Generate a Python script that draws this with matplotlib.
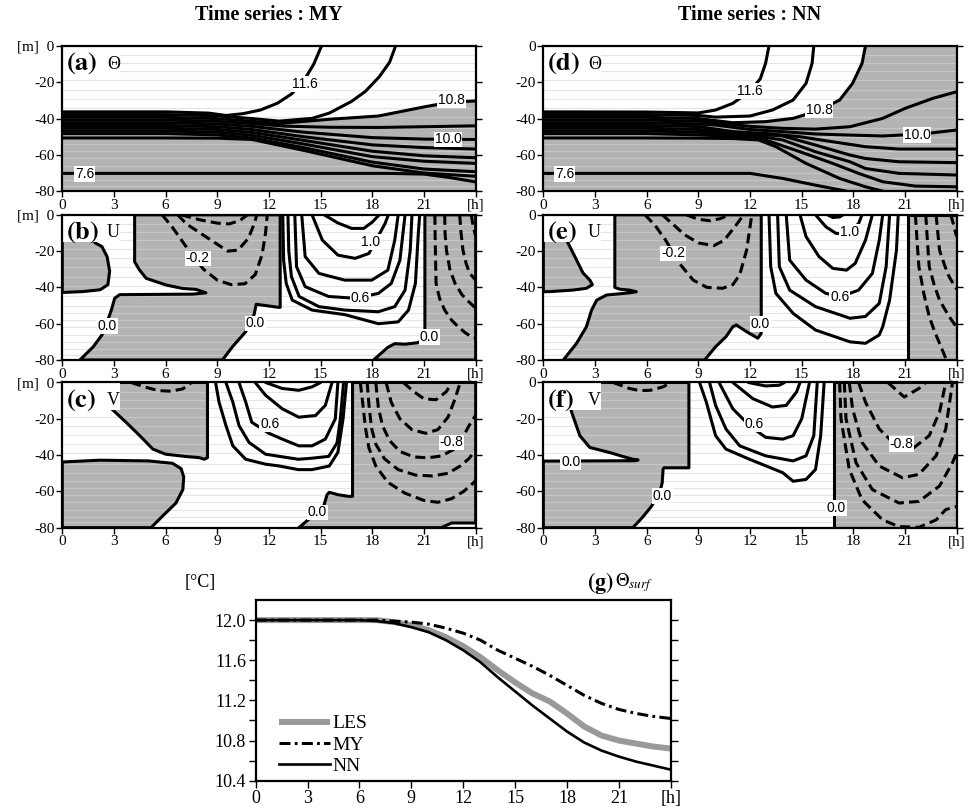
import matplotlib
matplotlib.use("Agg")
import matplotlib.pyplot as plt
from matplotlib.patches import Rectangle

plt.rcParams['font.family'] = ['Liberation Serif', 'DejaVu Serif']
plt.rcParams['mathtext.fontset'] = 'stix'
plt.rcParams['axes.unicode_minus'] = False

# ---------------- ticks ----------------
HOUR_TICKS = [0, 3, 6, 9, 12, 15, 18, 21, 24]
HOUR_LABELS = ['0', '3', '6', '9', '12', '15', '18', '21', '[h]']
DEPTH_TICKS = [0, -20, -40, -60, -80]
DEPTH_LABELS_LEFT = ['[m]  0', '-20', '-40', '-60', '-80']
DEPTH_LABELS_RIGHT = ['0', '-20', '-40', '-60', '-80']
GRID_DEPTHS = [-5, -9.5, -14, -19, -24, -29, -34, -39, -45, -50, -54, -58, -62, -66, -70, -74, -77]

# ---------------- (a) Theta, MY ----------------
THETA_MY_LINES = [
    (11.6, [0, 6, 8.5, 9.5, 10.5, 11.5, 12.5, 13.3, 14.0, 14.6, 15.05],
           [-36.3, -36.3, -37, -38.3, -37.3, -35.3, -31.5, -26.5, -19.5, -10, 0]),
    (11.2, [0, 6, 9, 11, 12.6, 14.5, 15.5, 16.8, 17.6, 18.4, 19.0, 19.35],
           [-37.8, -37.8, -38.5, -40, -41.4, -39.9, -37, -30.5, -25, -17, -9, 0]),
    (10.8, [0, 6, 9, 11, 12.6, 15.5, 18.35, 21.05, 22.5, 24],
           [-39.3, -39.3, -40, -41.5, -42.7, -40.4, -38.6, -33.5, -31, -30.3]),
    (10.4, [0, 6, 9, 11, 13, 15.5, 18.35, 21, 24],
           [-40.8, -40.8, -41.5, -42.8, -44.2, -44.8, -44.9, -44.5, -44]),
    (10.0, [0, 6, 9, 11, 14, 18, 21, 24], [-42.3, -42.3, -43, -44.3, -47.5, -50.5, -51.3, -51.5]),
    (9.6, [0, 6, 9, 11, 14, 18, 21, 24], [-43.8, -43.8, -44.5, -46, -50, -54.5, -56, -56.8]),
    (9.2, [0, 6, 9, 11, 14, 18, 21, 24], [-45.3, -45.3, -46, -47.6, -52, -58, -60.5, -61.6]),
    (8.8, [0, 6, 9, 11, 14, 18, 21, 24], [-46.8, -46.8, -47.5, -49.2, -54, -61, -63.5, -64.7]),
    (8.4, [0, 6, 9, 11, 14, 18, 21, 24], [-48.3, -48.3, -49, -50.7, -56, -64, -67.8, -69.3]),
    (8.0, [0, 6, 9, 11, 14, 18, 21, 24], [-50.7, -50.7, -50.8, -51.5, -57.5, -66, -70, -71.8]),
    (7.6, [0, 19, 21, 22.5, 24], [-70.2, -70.2, -70.6, -72.5, -74.9]),
]
THETA_MY_LABELS = [('11.6', 14.1, -21.0), ('10.8', 22.6, -29.8), ('10.0', 22.4, -51.5), ('7.6', 1.3, -70.4)]
THETA_MY_FILL_CLOSE = ([24, 0], [-80, -80])

# ---------------- (d) Theta, NN ----------------
THETA_NN_LINES = [
    (11.6, [0, 6, 9, 10, 11, 12, 12.6, 12.9, 13.1], [-36.3, -36.4, -36.9, -35.3, -31.6, -25, -18, -9.6, 0]),
    (11.2, [0, 6, 9, 10, 12, 13.3, 14.5, 15.25, 15.6, 15.7], [-37.8, -37.8, -38.3, -39.2, -38.6, -35.3, -29.8, -20.6, -9.6, 0]),
    (10.8, [0, 6, 9, 11, 12.9, 14.5, 16, 17.2, 17.95, 18.5, 18.7], [-39.3, -39.3, -40, -42.3, -41.7, -39.9, -35.5, -29.8, -20.6, -9.6, 0]),
    (10.4, [0, 6, 9, 10, 12, 13.9, 15.8, 17.8, 19.7, 21.0, 22.6, 24],
           [-40.8, -40.8, -41.5, -42.3, -44.3, -45.4, -45.8, -44.5, -39.9, -34.4, -28.9, -25.2]),
    (10.0, [0, 6, 9, 10, 12, 13.9, 15.8, 17.8, 19.7, 22, 24],
           [-42.3, -42.3, -43, -43.6, -46, -47.2, -48.5, -49.1, -49.6, -48.5, -46.3]),
    (9.6, [0, 6, 9, 11, 12.9, 14.9, 16.8, 18.7, 20.65, 24], [-43.8, -43.8, -44.4, -47.2, -48.2, -50, -52.8, -55.5, -56.8, -56.8]),
    (9.2, [0, 6, 9, 11, 13.9, 15.8, 17.8, 18.7, 20.65, 24], [-45.3, -45.3, -46, -47.8, -49.6, -54.6, -60.1, -62, -63.8, -64.3]),
    (8.8, [0, 6, 9, 11, 12.5, 13.9, 15.8, 17.8, 18.7, 20.65, 24],
          [-46.8, -46.8, -47.5, -48.8, -49.8, -51.8, -58.3, -63.8, -67.5, -70.2, -71.1]),
    (8.4, [0, 6, 9, 11, 12.0, 12.9, 14.9, 16.8, 18.3, 19.7, 21.6, 24],
          [-48.3, -48.3, -49, -49.8, -50.4, -51.8, -58.3, -64.7, -70.2, -74.8, -77.2, -77.6]),
    (8.0, [0, 6, 9, 11, 12.5, 13.5, 15.25, 17.2, 18.7, 19.7], [-50.7, -50.7, -50.8, -51, -51.8, -55.5, -64.7, -73, -77.6, -80]),
    (7.6, [0, 12, 13.9, 15.8, 17.6], [-70.2, -70.2, -73, -76.7, -80]),
]
THETA_NN_LABELS = [('11.6', 12.0, -25.0), ('10.8', 16.0, -35.3), ('10.0', 21.7, -49.0), ('7.6', 1.25, -70.4)]
THETA_NN_FILL_CLOSE = ([24, 24, 0], [0, -80, -80])

# ---------------- (b) U, MY ----------------
U_MY_LINES = [
    (-0.2, [5.8, 6.4, 7.0, 7.6, 8.2, 9.0, 9.8, 10.6, 11.2, 11.6, 11.8, 11.9],
           [0, -7, -15, -23, -30, -36, -38.5, -38, -33, -22, -10, 0]),
    (-0.4, [6.7, 7.2, 8.0, 8.8, 9.6, 10.2, 10.8, 11.1, 11.3], [0, -5, -10, -15, -20, -19.5, -13, -6, 0]),
    (-0.6, [6.9, 8.0, 9.0, 9.7, 10.3, 10.75], [0, -2.8, -4.6, -5.0, -3.2, 0]),
    (0.2, [12.8, 12.85, 13.0, 13.35, 14.5, 16.4, 18.35, 19.5, 20.1, 20.5, 20.67, 20.75],
          [0, -25, -37.8, -47, -52.5, -55, -60, -59, -52.5, -37.8, -10, 0]),
    (0.4, [13.1, 13.15, 13.3, 13.75, 14.9, 16.4, 18.35, 19.3, 19.9, 20.2, 20.3],
          [0, -20, -34, -45, -50.6, -52.5, -53.4, -50.6, -41.5, -19.5, 0]),
    (0.6, [13.5, 13.6, 14.1, 15.46, 17.0, 18.35, 19.1, 19.6, 19.9],
          [0, -28.6, -39.6, -45, -46, -43.3, -37.8, -25, 0]),
    (0.8, [13.9, 14.1, 14.9, 16.4, 17.96, 18.9, 19.3, 19.5], [0, -23, -32.3, -36, -36, -30.5, -14, 0]),
    (1.0, [14.5, 15.1, 16.0, 17.0, 17.8, 18.74, 18.93], [0, -14, -22.2, -24, -21.3, -4.8, 0]),
    (1.2, [15.2, 16.0, 16.8, 17.5, 18.0, 18.4], [0, -4.5, -7.5, -7.5, -4, 0]),
    (-0.2, [21.63, 21.65, 21.7, 21.9, 22.2, 22.6, 22.98, 23.4, 23.75, 24],
           [0, -15, -37.8, -46, -52.5, -58, -61.7, -65, -67.2, -68]),
    (-0.4, [22.2, 22.22, 22.3, 22.5, 22.8, 23.2, 23.5, 23.9, 24], [0, -10, -19.5, -30, -37.8, -44, -47, -50.6, -51]),
    (-0.6, [23.07, 23.15, 23.26, 23.45, 23.65, 24], [0, -10, -19.5, -27, -32.3, -36]),
    (-0.8, [23.74, 23.85, 24], [0, -6, -12]),
]
U_MY_NEG_REGIONS = [
    ([0, 1.6, 1.9, 2.3, 2.6, 2.75, 2.65, 2.2, 1.2, 0],
     [0, 0, -15.4, -17.5, -23, -31, -38.5, -41.3, -42.3, -42.8]),
    ([4.2, 4.2, 4.49, 4.87, 6.03, 7.0, 7.76, 8.34, 7.6, 3.33, 3.04, 2.85, 2.37, 1.8, 1.02,
      9.3, 9.88, 10.65, 11.13, 11.26, 12.57, 12.65, 12.65],
     [0, -25.9, -30.5, -35, -38.7, -40.6, -41.1, -43.0, -43.7, -44, -46, -52.5, -65.3, -72.7, -80,
      -80, -72.7, -64.4, -55.2, -49.3, -51, -51, 0]),
    ([18.07, 18.9, 19.3, 19.9, 20.6, 21.05, 21.05, 24, 24], [-80, -73, -71, -71.3, -70.5, -69, 0, 0, -80]),
]
U_MY_LABELS = [('-0.2', 7.86, -24.0), ('1.0', 17.9, -14.9), ('0.6', 17.3, -46.0),
               ('0.0', 2.6, -61.3), ('0.0', 11.2, -59.8), ('0.0', 21.3, -67.2)]

# ---------------- (e) U, NN ----------------
U_NN_LINES = [
    (-0.2, [5.9, 6.5, 7.1, 7.9, 8.7, 9.5, 10.4, 11.0, 11.4, 11.8, 12.1],
           [0, -6, -14, -26.8, -36, -40, -40.5, -38.5, -33, -19.5, 0]),
    (-0.4, [6.9, 7.5, 8.2, 9.0, 9.9, 10.5, 11.0, 11.4, 11.6], [0, -5, -11, -15.5, -17, -14, -8, -3, 0]),
    (-0.6, [8.3, 9.0, 9.7, 10.3, 10.8], [0, -2.5, -3.3, -2, 0]),
    (0.2, [13.1, 13.2, 13.5, 14.5, 15.8, 17.8, 18.7, 19.5, 19.7, 20.1, 20.5, 20.6],
          [0, -28.6, -43.3, -54.3, -63.5, -70, -70.8, -66.2, -61.7, -47, -19.5, 0]),
    (0.4, [13.6, 13.7, 14.3, 15.8, 17.8, 18.7, 19.5, 19.9, 20.1],
          [0, -28.6, -41.5, -50.6, -57, -56, -48.8, -28.6, 0]),
    (0.6, [14.1, 14.3, 15.25, 16.4, 17.3, 18.3, 19.1, 19.5, 19.7], [0, -25, -36, -43.3, -45, -41.5, -32.3, -14, 0]),
    (0.8, [14.9, 15.25, 16.0, 16.8, 17.6, 18.1, 18.7, 19.1], [0, -12, -23, -29.5, -30.5, -26.8, -14, 0]),
    (1.0, [15.8, 16.4, 17.0, 17.7, 18.3, 18.5], [0, -6.6, -10.3, -10, -4.8, 0]),
    (1.2, [16.5, 16.8, 17.2, 17.4], [0, -1.5, -1.2, 0]),
    (-0.2, [21.6, 21.7, 21.8, 22.1, 22.4, 22.7, 23.0, 23.4], [0, -15, -28.6, -44, -56, -64, -70.8, -80]),
    (-0.4, [22.2, 22.3, 22.4, 22.7, 23.0, 23.55, 23.9, 24], [0, -15, -28.6, -39, -47, -56, -60.7, -62]),
    (-0.6, [22.8, 22.9, 23.0, 23.3, 23.55, 23.9, 24], [0, -10, -19.5, -28, -34, -39.6, -41]),
    (-0.8, [23.65, 23.8, 23.94, 24], [0, -5, -10.3, -12]),
]
U_NN_NEG_REGIONS = [
    ([0, 0.15, 0.6, 1.0, 1.35, 1.74, 2.3, 2.7, 2.85, 2.5, 1.7, 0.4, 0],
     [0, 0, -5, -10, -14, -21.3, -32, -36, -38.5, -40.5, -41.5, -42.3, -42.4]),
    ([4.15, 4.15, 4.44, 5.0, 5.4, 5.0, 3.67, 3.1, 2.8, 2.5, 1.93, 1.16,
      9.36, 10.0, 10.6, 11.0, 11.2, 11.8, 12.45, 12.65, 12.65],
     [0, -40, -41, -41.5, -42.4, -43, -44.2, -47, -52.5, -61.7, -70.8, -80,
      -80, -72.7, -67.2, -61.7, -60.7, -64.4, -68, -65.3, 0]),
    ([21.15, 21.15, 24, 24], [0, -80, -80, 0]),
]
U_NN_LABELS = [('-0.2', 7.53, -21.3), ('1.0', 17.75, -9.4), ('0.6', 17.2, -45.1), ('0.0', 12.6, -60.2)]

# ---------------- (c) V, MY ----------------
V_MY_LINES = [
    (-0.2, [4.0, 4.8, 5.6, 6.3, 7.0, 7.5], [0, -2.5, -4.5, -4.8, -3.5, 0]),
    (0.2, [8.9, 9.1, 9.5, 9.9, 10.65, 11.8, 12.6, 13.7, 14.5, 15.5, 16.0, 16.3, 16.5],
          [0, -10.8, -23.7, -34.9, -42.3, -45, -46, -48, -48, -46, -38.5, -20, 0]),
    (0.4, [9.5, 9.9, 10.26, 10.84, 11.8, 13.7, 14.5, 15.47, 15.95, 16.14, 16.33],
          [0, -10.8, -23.7, -33, -39.5, -42.3, -41.7, -40.7, -33.3, -20.4, 0]),
    (0.6, [10.26, 10.65, 11.0, 12.0, 12.77, 13.73, 14.5, 15.27, 15.85, 16.0],
          [0, -10.8, -21.9, -28, -31.2, -34.9, -34.9, -31.2, -20, 0]),
    (0.8, [11.2, 11.8, 12.77, 13.73, 14.7, 15.27, 15.66], [0, -7, -14.5, -19.1, -18.2, -12.6, 0]),
    (1.0, [11.8, 12.77, 13.73, 14.5, 15.0], [0, -3.3, -4.3, -2.4, 0]),
    (-0.2, [17.3, 17.45, 17.6, 17.8, 18.2, 18.9, 19.9, 21.0, 21.8, 22.6, 23.3, 23.9, 24],
           [0, -12, -25, -36, -46, -55, -61, -65, -66, -64, -60, -55, -54]),
    (-0.4, [17.7, 17.8, 17.95, 18.2, 18.7, 19.5, 20.5, 21.5, 22.4, 23.1, 23.6, 24],
           [0, -12, -25, -34, -42, -48, -51, -51.5, -50, -46, -42, -37]),
    (-0.6, [18.2, 18.35, 18.6, 19.0, 19.6, 20.4, 21.2, 22.0, 22.7, 23.2, 23.6, 24],
           [0, -14, -24, -32, -38, -41, -41.5, -40.5, -37, -31, -24, -18]),
    (-0.8, [18.8, 19.1, 19.6, 20.3, 21.1, 21.8, 22.4, 22.8, 23.1], [0, -11, -20, -26, -28, -26, -19, -9, 0]),
    (-1.0, [19.8, 20.4, 21.0, 21.7, 22.3, 22.6], [0, -5, -9, -9.5, -5, 0]),
]
V_MY_NEG_REGIONS = [
    ([0.15, 1.0, 2.0, 2.75, 3.7, 4.5, 5.26, 6.0, 7.2, 7.95, 8.24, 8.43, 8.43],
     [0, -4, -9, -13.5, -21.9, -29.3, -36.7, -39.5, -40.8, -41.4, -42.3, -41.4, 0]),
    ([0, 2.2, 5.0, 6.4, 6.9, 7.05, 7.0, 6.6, 5.8, 5.15, 0],
     [-43.8, -42.8, -43.2, -44.5, -47.5, -52, -59, -66.4, -73.8, -80, -80]),
    ([13.73, 14.5, 15.17, 15.37, 15.5, 16.0, 16.6, 16.85, 16.85, 24, 24, 22.6, 22.0],
     [-80, -73.8, -68.3, -61.8, -60.5, -61.8, -62.7, -62.7, 0, 0, -77.4, -77.4, -80]),
]
V_MY_LABELS = [('0.6', 12.05, -22.8), ('0.0', 14.8, -71.6), ('-0.8', 22.6, -33.0)]

# ---------------- (f) V, NN ----------------
V_NN_LINES = [
    (-0.2, [4.05, 5.0, 5.6, 6.2, 6.95, 7.4], [0, -3.3, -4.5, -4.3, -2.4, 0]),
    (0.2, [9.07, 9.46, 10.0, 10.6, 11.97, 13.9, 14.5, 15.25, 15.8, 16.1, 16.3],
          [0, -10.8, -29.3, -36.7, -42.3, -49.7, -54.4, -53.4, -47.9, -29.3, 0]),
    (0.4, [9.65, 10.0, 10.6, 11.4, 12.9, 14.5, 15.25, 15.7, 15.9],
          [0, -12.6, -25.6, -34.9, -40.4, -43.2, -40.4, -29.3, 0]),
    (0.6, [10.2, 11.0, 12.0, 12.9, 13.9, 14.5, 15.0, 15.45], [0, -14.5, -24, -30.2, -31.2, -29.3, -20, 0]),
    (0.8, [11.0, 12.16, 13.3, 14.1, 14.7, 14.9], [0, -8.9, -13.5, -12.6, -5.2, 0]),
    (1.0, [11.9, 12.9, 13.7, 14.0], [0, -1.9, -1.5, 0]),
    (-0.2, [17.2, 17.28, 17.76, 18.5, 19.7, 20.65, 21.8, 22.8, 23.36, 24],
           [0, -20, -47.9, -64.6, -75.7, -79.4, -79.8, -75.7, -70, -68.3]),
    (-0.4, [17.47, 17.57, 18.15, 19.1, 20.65, 21.8, 23.0, 23.75, 24],
           [0, -20, -44.2, -59, -66.4, -65.5, -57, -44.2, -38.6]),
    (-0.6, [17.76, 17.95, 18.5, 19.5, 20.85, 21.8, 22.8, 23.36, 23.75],
           [0, -14.5, -33, -46, -52.5, -50.6, -40.4, -25.6, 0]),
    (-0.8, [18.3, 18.7, 19.5, 20.3, 21.4, 22.4, 23.0, 23.36], [0, -10.8, -25.6, -33, -36.7, -29.3, -16.3, 0]),
    (-1.0, [20.0, 20.95, 21.8, 22.2], [0, -8, -3.3, 0]),
]
V_NN_NEG_REGIONS = [
    ([1.1, 8.45, 8.45, 7.0, 6.95, 6.9, 6.75, 6.27, 5.8, 5.2, 0, 0, 5.3, 5.5, 5.2, 4.63, 3.86, 2.7, 2.12, 1.64, 1.4],
     [0, 0, -47, -47, -47.9, -55.3, -60.9, -68.3, -73.8, -80, -80, -43.3, -43.1, -42.7, -42.3, -40.8, -38.6,
      -35.8, -29.3, -16.3, -8]),
    ([16.85, 24, 24, 16.85], [0, 0, -80, -80]),
]
V_NN_LABELS = [('0.0', 1.6, -43.8), ('0.0', 6.9, -62.7), ('0.6', 12.25, -22.8), ('0.0', 17.0, -69.2), ('-0.8', 20.8, -34.0)]

# ---------------- (g) surface temperature ----------------
HOURS = list(range(25))
SST_LES = [12.0, 12.0, 12.0, 12.0, 12.0, 12.0, 12.0, 12.0, 11.98, 11.95, 11.9, 11.83, 11.74, 11.63, 11.5,
           11.38, 11.27, 11.19, 11.07, 10.94, 10.85, 10.8, 10.77, 10.74, 10.72]
SST_MY = [12.0, 12.0, 12.0, 12.0, 12.0, 12.0, 12.0, 12.0, 11.99, 11.98, 11.96, 11.92, 11.87, 11.8, 11.7,
          11.62, 11.54, 11.45, 11.35, 11.25, 11.17, 11.11, 11.07, 11.04, 11.02]
SST_NN = [12.0, 12.0, 12.0, 12.0, 12.0, 12.0, 12.0, 11.99, 11.97, 11.93, 11.88, 11.8, 11.7, 11.58, 11.43,
          11.29, 11.15, 11.02, 10.89, 10.78, 10.7, 10.64, 10.59, 10.55, 10.51]
SST_TICKS = [10.4, 10.8, 11.2, 11.6, 12.0]
SST_MINOR = [10.6, 11.0, 11.4, 11.8]

GRAY = '#b3b3b3'
LW = 2.2
DASH = (0, (3.3, 1.7))

fig = plt.figure(figsize=(9.76, 8.09), dpi=100)

W = 0.4236
H = 0.1795
LEFT_X = [0.0638, 0.5567]
ROW_Y = [0.7637, 0.5550, 0.3477]


def style_contour_axes(ax, ylabels):
    ax.set_xlim(0, 24)
    ax.set_ylim(-80, 0)
    ax.set_xticks(HOUR_TICKS)
    ax.set_xticklabels(HOUR_LABELS)
    ax.set_yticks(DEPTH_TICKS)
    ax.set_yticklabels(ylabels)
    ax.tick_params(axis='both', direction='out', length=4, width=1.0, labelsize=11, pad=1.5)
    ax.tick_params(axis='y', right=True)
    for s in ax.spines.values():
        s.set_linewidth(1.6)
        s.set_zorder(6)


def add_tag(ax, tag, var):
    ax.add_patch(Rectangle((0, 0.81), 0.14, 0.19, transform=ax.transAxes, facecolor='white',
                           edgecolor='none', zorder=5))
    ax.text(0.008, 0.88, r'$\mathbf{(' + tag + ')}$', transform=ax.transAxes, fontsize=19,
            ha='left', va='center', zorder=6)
    ax.text(0.108, 0.875, var, transform=ax.transAxes, fontsize=13, ha='left', va='center', zorder=6)


def add_labels(ax, labels):
    for s, t, z in labels:
        ax.text(t, z, s, ha='center', va='center', fontsize=10, family=['Liberation Sans', 'DejaVu Sans'],
                bbox=dict(facecolor='white', edgecolor='none', pad=0.6), zorder=4)


def draw_lines(ax, lines):
    for lev, t, z in lines:
        ax.plot(t, z, color='black', lw=LW, ls=DASH if lev < 0 else '-', zorder=3,
                solid_capstyle='round', solid_joinstyle='round')


def draw_grid(ax):
    for d in GRID_DEPTHS:
        ax.axhline(d, color='#d4d4d4', alpha=0.6, lw=0.8, zorder=1.5)


def theta_panel(ax, lines, labels, close, tag, ylabels):
    style_contour_axes(ax, ylabels)
    ref = [l for l in lines if l[0] == 10.8][0]
    ax.fill(list(ref[1]) + close[0], list(ref[2]) + close[1], facecolor=GRAY, edgecolor='none', zorder=1)
    draw_grid(ax)
    draw_lines(ax, lines)
    add_labels(ax, labels)
    add_tag(ax, tag, 'Θ')


def vel_panel(ax, lines, regions, labels, tag, var, ylabels):
    style_contour_axes(ax, ylabels)
    for t, z in regions:
        ax.fill(t, z, facecolor=GRAY, edgecolor='none', zorder=1)
    draw_grid(ax)
    for t, z in regions:
        ax.fill(t, z, fill=False, edgecolor='black', lw=LW, zorder=3, joinstyle='round')
    draw_lines(ax, lines)
    add_labels(ax, labels)
    add_tag(ax, tag, var)


ax_a = fig.add_axes([LEFT_X[0], ROW_Y[0], W, H])
theta_panel(ax_a, THETA_MY_LINES, THETA_MY_LABELS, THETA_MY_FILL_CLOSE, 'a', DEPTH_LABELS_LEFT)
ax_d = fig.add_axes([LEFT_X[1], ROW_Y[0], W, H])
theta_panel(ax_d, THETA_NN_LINES, THETA_NN_LABELS, THETA_NN_FILL_CLOSE, 'd', DEPTH_LABELS_RIGHT)

ax_b = fig.add_axes([LEFT_X[0], ROW_Y[1], W, H])
vel_panel(ax_b, U_MY_LINES, U_MY_NEG_REGIONS, U_MY_LABELS, 'b', 'U', DEPTH_LABELS_LEFT)
ax_e = fig.add_axes([LEFT_X[1], ROW_Y[1], W, H])
vel_panel(ax_e, U_NN_LINES, U_NN_NEG_REGIONS, U_NN_LABELS, 'e', 'U', DEPTH_LABELS_RIGHT)

ax_c = fig.add_axes([LEFT_X[0], ROW_Y[2], W, H])
vel_panel(ax_c, V_MY_LINES, V_MY_NEG_REGIONS, V_MY_LABELS, 'c', 'V', DEPTH_LABELS_LEFT)
ax_f = fig.add_axes([LEFT_X[1], ROW_Y[2], W, H])
vel_panel(ax_f, V_NN_LINES, V_NN_NEG_REGIONS, V_NN_LABELS, 'f', 'V', DEPTH_LABELS_RIGHT)

fig.text(LEFT_X[0] + W / 2, 0.981, 'Time series : MY', ha='center', va='center', fontsize=14.5, fontweight='bold')
fig.text(LEFT_X[1] + W / 2, 0.981, 'Time series : NN', ha='center', va='center', fontsize=14.5, fontweight='bold')

# ---------------- (g) ----------------
ax_g = fig.add_axes([0.262, 0.035, 0.4252, 0.2233])
ax_g.plot(HOURS, SST_LES, color='#999999', lw=4.3, label='LES', solid_capstyle='butt')
ax_g.plot(HOURS, SST_MY, color='black', lw=2.2, ls=(0, (3.6, 1.4, 0.9, 1.4)), label='MY')
ax_g.plot(HOURS, SST_NN, color='black', lw=1.9, label='NN')
ax_g.set_xlim(0, 24)
ax_g.set_ylim(10.4, 12.2)
ax_g.set_xticks(HOUR_TICKS)
ax_g.set_xticklabels(HOUR_LABELS)
ax_g.set_yticks(SST_TICKS)
ax_g.set_yticklabels(['%.1f' % v for v in SST_TICKS])
ax_g.set_yticks(SST_MINOR, minor=True)
ax_g.tick_params(axis='both', which='major', direction='out', length=5, width=1.0, labelsize=13, pad=2)
ax_g.tick_params(axis='y', which='both', right=True)
ax_g.tick_params(axis='y', which='minor', direction='out', length=5, width=1.0)
for s in ax_g.spines.values():
    s.set_linewidth(1.6)
leg = ax_g.legend(loc='lower left', bbox_to_anchor=(0.038, -0.01), frameon=False, fontsize=14,
                  handlelength=2.6, handletextpad=0.15, labelspacing=0.18, borderaxespad=0.0)
fig.text(0.205, 0.2794, '[°C]', ha='center', va='center', fontsize=13)
fig.text(0.6015, 0.2794, r'$\mathbf{(g)}$', ha='left', va='center', fontsize=16)
fig.text(0.630, 0.2794, r'$\Theta_{\mathit{surf}}$', ha='left', va='center', fontsize=13.5)

fig.savefig('out.png', dpi=100)
